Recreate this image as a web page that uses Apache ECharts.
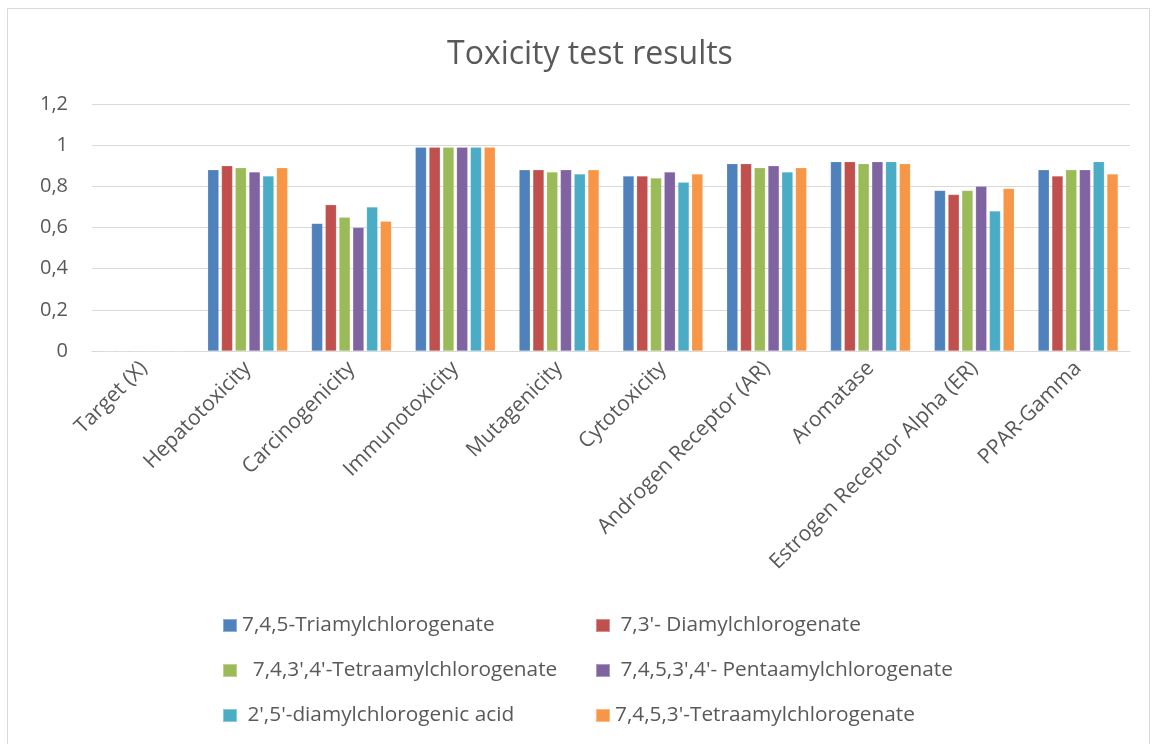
<!DOCTYPE html>
<html>
<head>
<meta charset="utf-8">
<script src="https://cdn.jsdelivr.net/npm/echarts@6/dist/echarts.min.js"></script>
<style>
html, body { margin: 0; padding: 0; background: #fff; }
#chart { width: 1155px; height: 744px; }
</style>
</head>
<body>
<div id="chart"></div>
<script>
// categories and series values
var categories = ["Target (X)", "Hepatotoxicity", "Carcinogenicity", "Immunotoxicity", "Mutagenicity",
  "Cytotoxicity", "Androgen Receptor (AR)", "Aromatase", "Estrogen Receptor Alpha (ER)", "PPAR-Gamma"];
var seriesNames = ["7,4,5-Triamylchlorogenate", " 7,3'- Diamylchlorogenate", "  7,4,3',4'-Tetraamylchlorogenate",
  " 7,4,5,3',4'- Pentaamylchlorogenate", " 2',5'-diamylchlorogenic acid", "7,4,5,3'-Tetraamylchlorogenate"];
var triamyl = [0, 0.88, 0.62, 0.99, 0.88, 0.85, 0.91, 0.92, 0.78, 0.88];
var diamyl = [0, 0.90, 0.71, 0.99, 0.88, 0.85, 0.91, 0.92, 0.76, 0.85];
var tetraamyl34 = [0, 0.89, 0.65, 0.99, 0.87, 0.84, 0.89, 0.91, 0.78, 0.88];
var pentaamyl = [0, 0.87, 0.60, 0.99, 0.88, 0.87, 0.90, 0.92, 0.80, 0.88];
var diamylAcid = [0, 0.85, 0.70, 0.99, 0.86, 0.82, 0.87, 0.92, 0.68, 0.92];
var tetraamyl3 = [0, 0.89, 0.63, 0.99, 0.88, 0.86, 0.89, 0.91, 0.79, 0.86];
var yTicks = [0, 0.2, 0.4, 0.6, 0.8, 1, 1.2];

var values = [triamyl, diamyl, tetraamyl34, pentaamyl, diamylAcid, tetraamyl3];
var colors = ["#4f81bd", "#c0504d", "#9bbb59", "#8064a2", "#4bacc6", "#f79646"];
var font = "Open Sans";
var grey = "#595959";

// one legend per item so the two columns line up
var legendPos = [
  { left: 222, top: 615 }, { left: 595, top: 615 },
  { left: 222, top: 660 }, { left: 595, top: 660 },
  { left: 222, top: 705 }, { left: 595, top: 705 }
];
var legends = seriesNames.map(function(name, i) {
  return {
    data: [name],
    left: legendPos[i].left,
    top: legendPos[i].top,
    padding: 0,
    itemWidth: 14,
    itemHeight: 13,
    icon: "rect",
    textStyle: { color: grey, fontSize: 20.8, fontFamily: font }
  };
});

var chart = echarts.init(document.getElementById("chart"));
chart.setOption({
  color: colors,
  animation: false,
  textStyle: { fontFamily: font },
  graphic: [{
    type: "rect",
    shape: { x: 7.5, y: 8.5, width: 1142, height: 760 },
    style: { fill: "none", stroke: "#d9d9d9", lineWidth: 1 },
    silent: true
  }],
  title: {
    text: "Toxicity test results",
    left: 442,
    top: 34,
    textStyle: { color: grey, fontSize: 32, fontWeight: "normal", fontFamily: font }
  },
  legend: legends,
  grid: { left: 92, right: 25, top: 104, bottom: 393, containLabel: false },
  xAxis: {
    type: "category",
    data: categories,
    axisLine: { lineStyle: { color: "#d9d9d9" } },
    axisTick: { show: false },
    axisLabel: { rotate: 45, interval: 0, color: grey, fontSize: 21, fontFamily: font, margin: 14 }
  },
  yAxis: {
    type: "value",
    min: yTicks[0],
    max: yTicks[yTicks.length - 1],
    interval: 0.2,
    axisLine: { show: false },
    axisTick: { show: false },
    splitLine: { lineStyle: { color: "#d9d9d9", width: 1 } },
    axisLabel: {
      color: grey, fontSize: 20, fontFamily: font, margin: 24,
      formatter: function(v) { return String(Math.round(v * 10) / 10).replace(".", ","); }
    }
  },
  series: values.map(function(arr, i) {
    return {
      name: seriesNames[i],
      type: "bar",
      data: arr,
      barGap: "24%",
      barCategoryGap: "23%",
      itemStyle: { borderColor: "rgba(255,255,255,0.35)", borderWidth: 0.5 }
    };
  })
});
</script>
</body>
</html>
